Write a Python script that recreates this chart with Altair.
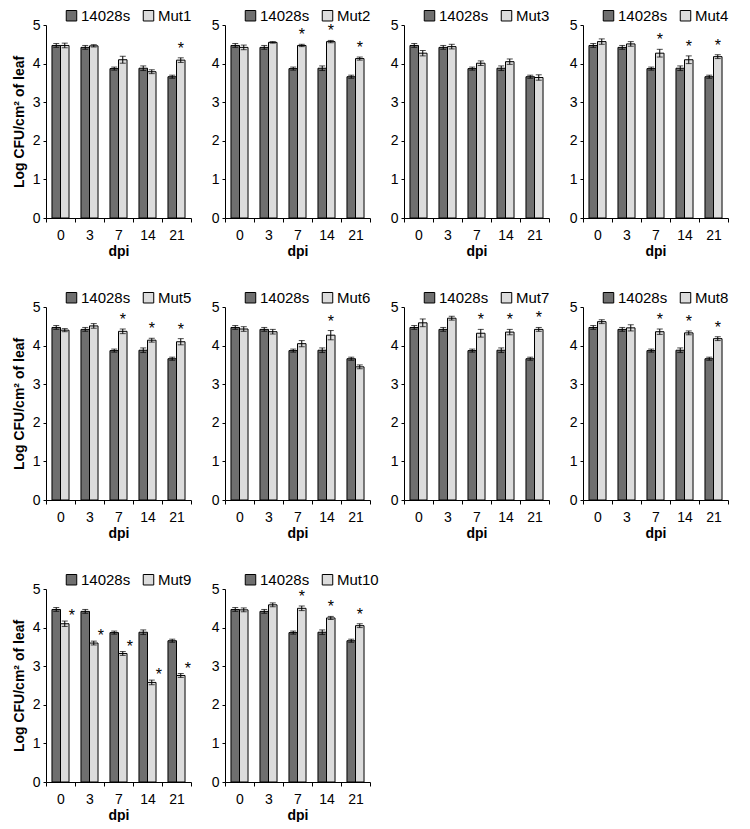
import altair as alt
import pandas as pd

DPI = ["0", "3", "7", "14", "21"]

WT_MEAN = [4.47, 4.42, 3.87, 3.88, 3.66]
WT_ERR = [0.05, 0.05, 0.04, 0.06, 0.04]

MUT1_MEAN = [4.47, 4.46, 4.10, 3.79, 4.09]
MUT1_ERR = [0.06, 0.03, 0.09, 0.05, 0.06]
MUT1_SIG = [0, 0, 0, 0, 1]

MUT2_MEAN = [4.42, 4.55, 4.47, 4.57, 4.13]
MUT2_ERR = [0.06, 0.02, 0.03, 0.03, 0.04]
MUT2_SIG = [0, 0, 1, 1, 1]

MUT3_MEAN = [4.27, 4.44, 4.01, 4.05, 3.64]
MUT3_ERR = [0.07, 0.06, 0.06, 0.07, 0.07]
MUT3_SIG = [0, 0, 0, 0, 0]

MUT4_MEAN = [4.57, 4.51, 4.27, 4.10, 4.18]
MUT4_ERR = [0.07, 0.06, 0.10, 0.10, 0.05]
MUT4_SIG = [0, 0, 1, 1, 1]

MUT5_MEAN = [4.40, 4.51, 4.37, 4.14, 4.10]
MUT5_ERR = [0.04, 0.06, 0.06, 0.05, 0.08]
MUT5_SIG = [0, 0, 1, 1, 1]

MUT6_MEAN = [4.43, 4.36, 4.05, 4.27, 3.45]
MUT6_ERR = [0.06, 0.06, 0.08, 0.12, 0.05]
MUT6_SIG = [0, 0, 0, 1, 0]

MUT7_MEAN = [4.59, 4.71, 4.32, 4.35, 4.42]
MUT7_ERR = [0.10, 0.05, 0.10, 0.07, 0.05]
MUT7_SIG = [0, 0, 1, 1, 1]

MUT8_MEAN = [4.62, 4.46, 4.36, 4.33, 4.18]
MUT8_ERR = [0.05, 0.08, 0.07, 0.05, 0.05]
MUT8_SIG = [0, 0, 1, 1, 1]

MUT9_MEAN = [4.10, 3.60, 3.33, 2.58, 2.76]
MUT9_ERR = [0.07, 0.05, 0.05, 0.06, 0.05]
MUT9_SIG = [1, 1, 1, 1, 1]

MUT10_MEAN = [4.46, 4.59, 4.50, 4.25, 4.05]
MUT10_ERR = [0.05, 0.05, 0.06, 0.04, 0.05]
MUT10_SIG = [0, 0, 1, 1, 1]

WT_NAME = "14028s"
Y_TITLE = "Log CFU/cm² of leaf"
FONT = "Liberation Sans"


def panel(name, means, errs, sig, first_col, star_dx=0, star_dy=-1):
    rows = []
    for i, d in enumerate(DPI):
        rows.append(dict(dpi=d, grp="a", strain=WT_NAME, mean=WT_MEAN[i],
                         lo=WT_MEAN[i] - WT_ERR[i], hi=WT_MEAN[i] + WT_ERR[i], star=""))
        rows.append(dict(dpi=d, grp="b", strain=name, mean=means[i],
                         lo=means[i] - errs[i], hi=means[i] + errs[i],
                         star="*" if sig[i] else ""))
    df = pd.DataFrame(rows)
    base = alt.Chart(df)

    x_axis = alt.Axis(title="dpi", labelAngle=0, tickBand="extent", tickSize=4,
                      labelPadding=6, titlePadding=2)
    x = alt.X("dpi:N", sort=DPI, scale=alt.Scale(paddingInner=0, paddingOuter=0), axis=x_axis)
    xo = alt.XOffset("grp:N", scale=alt.Scale(paddingInner=0, paddingOuter=0.7))
    y_axis = alt.Axis(values=[0, 1, 2, 3, 4, 5], tickSize=3, labelPadding=3,
                      title=Y_TITLE if first_col else "", titlePadding=6)
    yscale = alt.Scale(domain=[0, 5], nice=False)

    color = alt.Color(
        "strain:N",
        scale=alt.Scale(domain=[WT_NAME, name], range=["#6f6f6f", "#dcdcdc"]),
        legend=alt.Legend(orient="none", legendX=18, legendY=-17, direction="horizontal",
                          title=None, symbolType="square", symbolSize=110,
                          symbolStrokeColor="black", symbolStrokeWidth=1,
                          labelFontSize=15, labelFont=FONT, labelColor="black",
                          columnPadding=10, labelOffset=2),
    )

    bars = base.mark_bar(stroke="black", strokeWidth=1).encode(
        x=x, xOffset=xo, y=alt.Y("mean:Q", scale=yscale, axis=y_axis), color=color)
    rule = base.mark_rule(color="black", strokeWidth=1).encode(
        x=x, xOffset=xo, y=alt.Y("lo:Q", scale=yscale, axis=y_axis), y2="hi:Q")
    cap_lo = base.mark_tick(color="black", size=6, thickness=1).encode(
        x=x, xOffset=xo, y=alt.Y("lo:Q", scale=yscale, axis=y_axis))
    cap_hi = base.mark_tick(color="black", size=6, thickness=1).encode(
        x=x, xOffset=xo, y=alt.Y("hi:Q", scale=yscale, axis=y_axis))
    stars = base.mark_text(fontSize=16, font=FONT, color="black", baseline="bottom",
                           dx=star_dx, dy=star_dy).encode(
        x=x, xOffset=xo, y=alt.Y("hi:Q", scale=yscale, axis=y_axis), text="star:N")

    return alt.layer(bars, rule, cap_lo, cap_hi, stars).properties(width=145, height=193)


p1 = panel("Mut1", MUT1_MEAN, MUT1_ERR, MUT1_SIG, True)
p2 = panel("Mut2", MUT2_MEAN, MUT2_ERR, MUT2_SIG, False)
p3 = panel("Mut3", MUT3_MEAN, MUT3_ERR, MUT3_SIG, False)
p4 = panel("Mut4", MUT4_MEAN, MUT4_ERR, MUT4_SIG, False)
p5 = panel("Mut5", MUT5_MEAN, MUT5_ERR, MUT5_SIG, True)
p6 = panel("Mut6", MUT6_MEAN, MUT6_ERR, MUT6_SIG, False)
p7 = panel("Mut7", MUT7_MEAN, MUT7_ERR, MUT7_SIG, False)
p8 = panel("Mut8", MUT8_MEAN, MUT8_ERR, MUT8_SIG, False)
p9 = panel("Mut9", MUT9_MEAN, MUT9_ERR, MUT9_SIG, True, star_dx=7, star_dy=3)
p10 = panel("Mut10", MUT10_MEAN, MUT10_ERR, MUT10_SIG, False)


def row(*charts):
    return alt.hconcat(*charts, spacing=19).resolve_scale(
        color="independent", x="independent", y="independent").resolve_legend(color="independent")


chart = alt.vconcat(
    row(p1, p2, p3, p4),
    row(p5, p6, p7, p8),
    row(p9, p10),
    spacing=32,
).resolve_scale(color="independent", x="independent", y="independent").resolve_legend(
    color="independent"
).properties(
    padding={"left": 4, "top": 0, "right": 2, "bottom": 0}
).configure_view(stroke=None).configure_axis(
    grid=False,
    domainColor="black",
    tickColor="black",
    labelColor="black",
    titleColor="black",
    labelFont=FONT,
    titleFont=FONT,
    labelFontSize=14,
    titleFontSize=14,
    titleFontWeight="bold",
)

chart.save("out.html", embed_options={"renderer": "svg", "actions": False})
